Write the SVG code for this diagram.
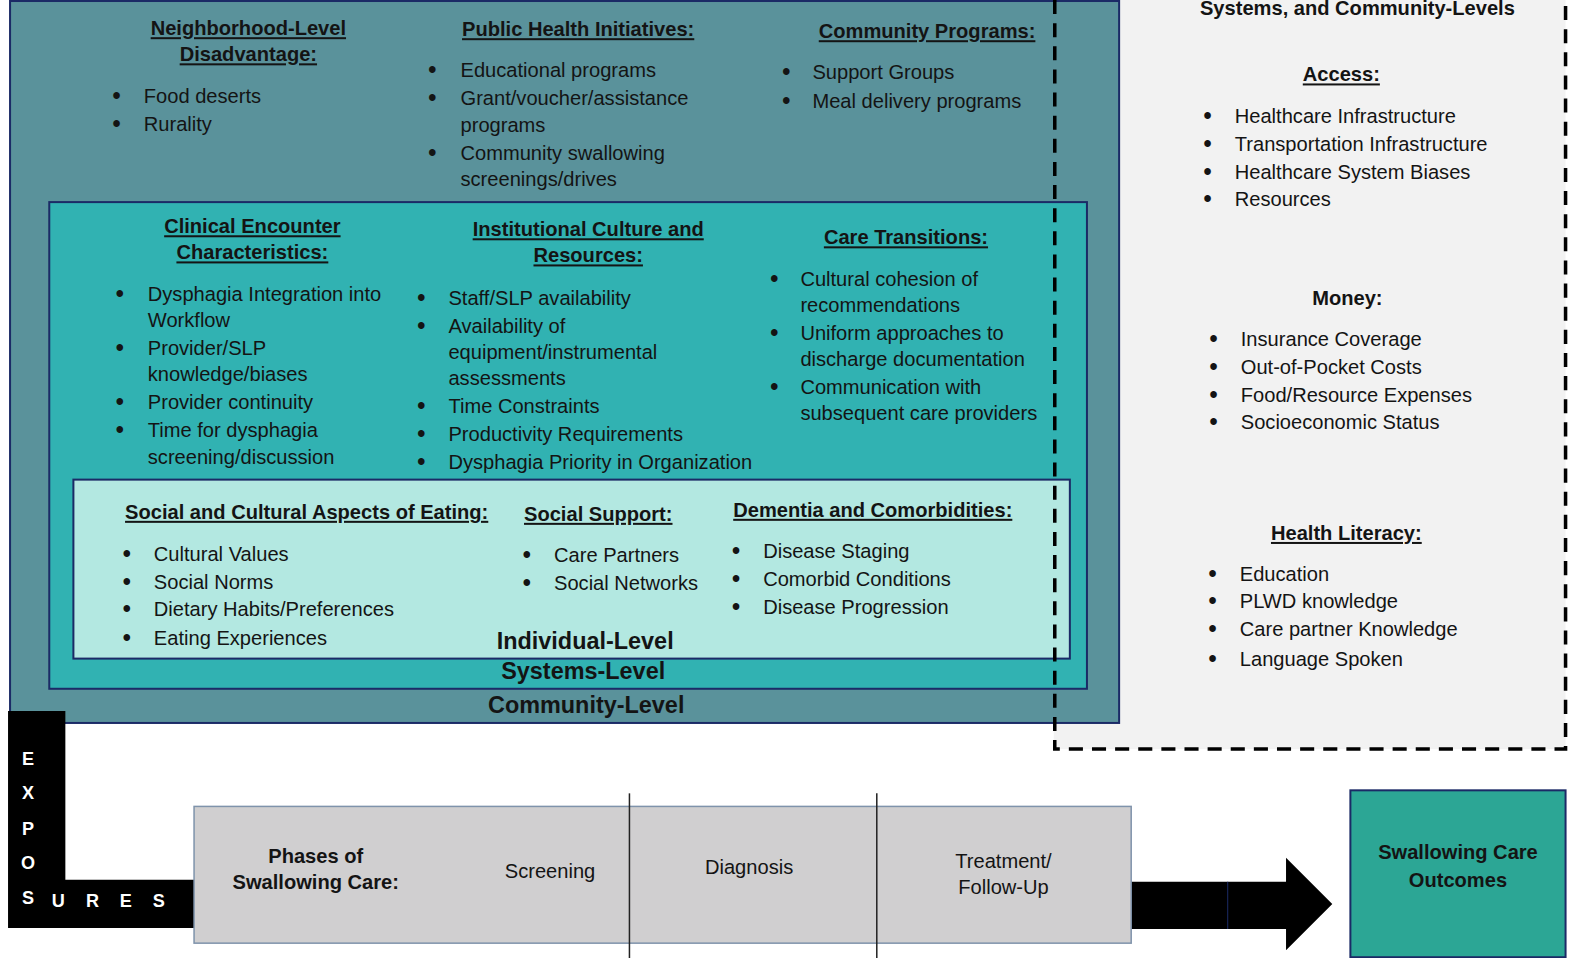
<svg xmlns="http://www.w3.org/2000/svg" width="1576" height="958" viewBox="0 0 1576 958">
<style>
text{font-family:"Liberation Sans",Arial,sans-serif;fill:#141414}
.t{font-size:20px;font-weight:bold;text-decoration:underline;text-anchor:middle}
.h{font-size:20px;font-weight:bold;text-anchor:middle}
.i{font-size:20px}
.r{font-size:20px}
.bl{font-size:23px;font-weight:bold}
.lv{font-size:23.3px;font-weight:bold;text-anchor:middle}
.ex{font-size:18px;font-weight:bold;fill:#ffffff;text-anchor:middle}
.ph{font-size:20px;text-anchor:middle}
.phb{font-size:20px;font-weight:bold;text-anchor:middle}
.box{stroke:#1b2a66;stroke-width:2}
</style>
<rect width="1576" height="958" fill="#ffffff"/>
<g transform="scale(1.0055)">

<g id="other-levels">
<rect x="1048" y="-5" width="509" height="750" fill="#f2f2f2"/>
<text class="h" x="1350" y="15">Systems, and Community-Levels</text>
<text class="t" x="1334" y="81">Access:</text>
<g class="r">
<text class="bl" x="1197" y="123">•</text><text x="1228" y="122">Healthcare Infrastructure</text>
<text class="bl" x="1197" y="151">•</text><text x="1228" y="150">Transportation Infrastructure</text>
<text class="bl" x="1197" y="179">•</text><text x="1228" y="178">Healthcare System Biases</text>
<text class="bl" x="1197" y="206">•</text><text x="1228" y="205">Resources</text>
</g>
<text class="h" x="1340" y="303">Money:</text>
<g class="r">
<text class="bl" x="1203" y="345">•</text><text x="1234" y="344">Insurance Coverage</text>
<text class="bl" x="1203" y="373">•</text><text x="1234" y="372">Out-of-Pocket Costs</text>
<text class="bl" x="1203" y="401">•</text><text x="1234" y="400">Food/Resource Expenses</text>
<text class="bl" x="1203" y="428">•</text><text x="1234" y="427">Socioeconomic Status</text>
</g>
<text class="t" x="1339" y="537">Health Literacy:</text>
<g class="r">
<text class="bl" x="1202" y="579">•</text><text x="1233" y="578">Education</text>
<text class="bl" x="1202" y="606">•</text><text x="1233" y="605">PLWD knowledge</text>
<text class="bl" x="1202" y="634">•</text><text x="1233" y="633">Care partner Knowledge</text>
<text class="bl" x="1202" y="663">•</text><text x="1233" y="662">Language Spoken</text>
</g>
</g>

<g id="community-level">
<rect class="box" x="10" y="1" width="1103" height="718" fill="#5a929b"/>
<text class="t" x="247" y="35">Neighborhood-Level</text>
<text class="t" x="247" y="61">Disadvantage:</text>
<g class="i">
<text class="bl" x="112" y="103">•</text><text x="143" y="102">Food deserts</text>
<text class="bl" x="112" y="131">•</text><text x="143" y="130">Rurality</text>
</g>
<text class="t" x="575" y="36">Public Health Initiatives:</text>
<g class="i">
<text class="bl" x="426" y="78">•</text><text x="458" y="77">Educational programs</text>
<text class="bl" x="426" y="105">•</text><text x="458" y="104">Grant/voucher/assistance</text>
<text x="458" y="131">programs</text>
<text class="bl" x="426" y="160">•</text><text x="458" y="159">Community swallowing</text>
<text x="458" y="185">screenings/drives</text>
</g>
<text class="t" x="922" y="38">Community Programs:</text>
<g class="i">
<text class="bl" x="778" y="80">•</text><text x="808" y="79">Support Groups</text>
<text class="bl" x="778" y="108">•</text><text x="808" y="107">Meal delivery programs</text>
</g>
<text class="lv" x="583" y="709">Community-Level</text>
</g>

<g id="systems-level">
<rect class="box" x="49" y="201" width="1032" height="484" fill="#31b2b2"/>
<text class="t" x="251" y="232">Clinical Encounter</text>
<text class="t" x="251" y="258">Characteristics:</text>
<g class="i">
<text class="bl" x="115" y="300">•</text><text x="147" y="299">Dysphagia Integration into</text>
<text x="147" y="325">Workflow</text>
<text class="bl" x="115" y="354">•</text><text x="147" y="353">Provider/SLP</text>
<text x="147" y="379">knowledge/biases</text>
<text class="bl" x="115" y="408">•</text><text x="147" y="407">Provider continuity</text>
<text class="bl" x="115" y="436">•</text><text x="147" y="435">Time for dysphagia</text>
<text x="147" y="461">screening/discussion</text>
</g>
<text class="t" x="585" y="235">Institutional Culture and</text>
<text class="t" x="585" y="261">Resources:</text>
<g class="i">
<text class="bl" x="415" y="304">•</text><text x="446" y="303">Staff/SLP availability</text>
<text class="bl" x="415" y="332">•</text><text x="446" y="331">Availability of</text>
<text x="446" y="357">equipment/instrumental</text>
<text x="446" y="383">assessments</text>
<text class="bl" x="415" y="412">•</text><text x="446" y="411">Time Constraints</text>
<text class="bl" x="415" y="440">•</text><text x="446" y="439">Productivity Requirements</text>
<text class="bl" x="415" y="467">•</text><text x="446" y="466">Dysphagia Priority in Organization</text>
</g>
<text class="t" x="901" y="243">Care Transitions:</text>
<g class="i">
<text class="bl" x="766" y="285">•</text><text x="796" y="284">Cultural cohesion of</text>
<text x="796" y="310">recommendations</text>
<text class="bl" x="766" y="339">•</text><text x="796" y="338">Uniform approaches to</text>
<text x="796" y="364">discharge documentation</text>
<text class="bl" x="766" y="393">•</text><text x="796" y="392">Communication with</text>
<text x="796" y="418">subsequent care providers</text>
</g>
<text class="lv" x="580" y="675">Systems-Level</text>
</g>

<g id="individual-level">
<rect class="box" x="73" y="477" width="991" height="178" fill="#b3e8e1"/>
<text class="t" x="305" y="516">Social and Cultural Aspects of Eating:</text>
<g class="i">
<text class="bl" x="122" y="559">•</text><text x="153" y="558">Cultural Values</text>
<text class="bl" x="122" y="587">•</text><text x="153" y="586">Social Norms</text>
<text class="bl" x="122" y="614">•</text><text x="153" y="613">Dietary Habits/Preferences</text>
<text class="bl" x="122" y="642">•</text><text x="153" y="641">Eating Experiences</text>
</g>
<text class="t" x="595" y="518">Social Support:</text>
<g class="i">
<text class="bl" x="520" y="560">•</text><text x="551" y="559">Care Partners</text>
<text class="bl" x="520" y="588">•</text><text x="551" y="587">Social Networks</text>
</g>
<text class="t" x="868" y="514">Dementia and Comorbidities:</text>
<g class="i">
<text class="bl" x="728" y="556">•</text><text x="759" y="555">Disease Staging</text>
<text class="bl" x="728" y="584">•</text><text x="759" y="583">Comorbid Conditions</text>
<text class="bl" x="728" y="612">•</text><text x="759" y="611">Disease Progression</text>
</g>
<text class="lv" x="582" y="645">Individual-Level</text>
</g>

<g id="connectors">
<path d="M1049,0 V745 H1557 V0" fill="none" stroke="#000" stroke-width="3.5" stroke-dasharray="14,9"/>
<polygon id="exposures-arrow" points="8,707 65,707 65,875 193,875 193,923 8,923" fill="#000"/>
<polygon id="outcome-arrow" points="1125,877 1279,877 1279,853 1325,899 1279,945 1279,924 1125,924" fill="#000"/>
<line x1="1221" y1="877" x2="1221" y2="924" stroke="#1b2a66" stroke-width="1"/>
</g>

<g id="exposures">
<text class="ex" x="28" y="761">E</text>
<text class="ex" x="28" y="795">X</text>
<text class="ex" x="28" y="830">P</text>
<text class="ex" x="28" y="864">O</text>
<text class="ex" x="28" y="899">S</text>
<text class="ex" x="58" y="902">U</text>
<text class="ex" x="92" y="902">R</text>
<text class="ex" x="125" y="902">E</text>
<text class="ex" x="158" y="902">S</text>
</g>

<g id="phases">
<rect x="193" y="802" width="932" height="136" fill="#d0cfd0" stroke="#7f93ab" stroke-width="1.5"/>
<line x1="626" y1="789" x2="626" y2="958" stroke="#222" stroke-width="1.5"/>
<line x1="872" y1="789" x2="872" y2="958" stroke="#222" stroke-width="1.5"/>
<text class="phb" x="314" y="858">Phases  of</text>
<text class="phb" x="314" y="884">Swallowing Care:</text>
<text class="ph" x="547" y="873">Screening</text>
<text class="ph" x="745" y="869">Diagnosis</text>
<text class="ph" x="998" y="863">Treatment/</text>
<text class="ph" x="998" y="889">Follow-Up</text>
</g>

<g id="outcomes">
<rect class="box" x="1343" y="786" width="214" height="166" fill="#2ca695"/>
<text class="phb" x="1450" y="854">Swallowing Care</text>
<text class="phb" x="1450" y="882">Outcomes</text>
</g>
</g>
</svg>
